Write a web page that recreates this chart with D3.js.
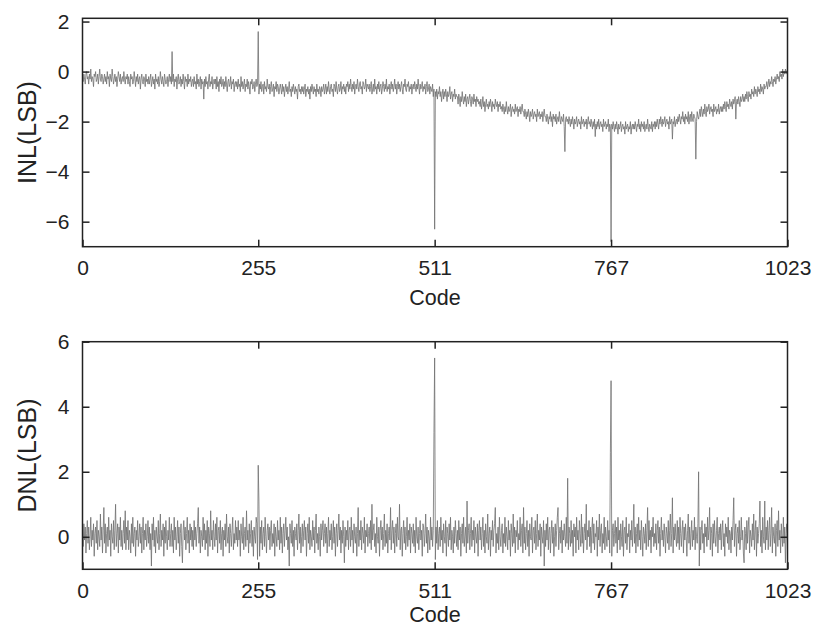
<!DOCTYPE html>
<html>
<head>
<meta charset="utf-8">
<script src="https://cdn.jsdelivr.net/npm/d3@7"></script>
<style>
  body { margin: 0; background: #fff; }
  text { font-family: "Liberation Sans", Arial, sans-serif; fill: #222; }
</style>
</head>
<body>
<div id="chart"></div>
<script>
// tick labels
var codeTicks = [0, 255, 511, 767, 1023];
var inlTicks = [2, 0, -2, -4, -6];
var dnlTicks = [6, 4, 2, 0];

// INL (LSB) per code 0..1023
var inl = [
-0.2,-0.4,-0.1,-0.3,-0.5,-0.1,0.0,-0.3,-0.2,-0.5,-0.1,-0.3,0.1,-0.4,-0.2,-0.3,-0.6,-0.1,-0.2,0.0,-0.4,-0.3,-0.1,-0.5,-0.2,0.1,-0.3,-0.4,-0.1,-0.2,-0.5,-0.3,
-0.1,-0.4,-0.2,-0.5,0.0,-0.3,-0.2,-0.6,-0.1,-0.3,-0.4,0.1,-0.2,-0.5,-0.3,-0.1,-0.4,-0.2,-0.6,-0.3,0.0,-0.2,-0.4,-0.1,-0.5,-0.3,-0.2,-0.4,0.0,-0.3,-0.5,-0.2,
-0.3,-0.1,-0.5,-0.2,-0.4,-0.6,-0.1,-0.3,-0.2,-0.5,-0.4,0.0,-0.3,-0.6,-0.2,-0.4,-0.1,-0.5,-0.3,-0.2,-0.7,-0.3,-0.1,-0.4,-0.5,-0.2,-0.3,-0.6,-0.1,-0.4,-0.3,-0.5,
-0.2,-0.5,-0.3,-0.1,-0.6,-0.4,-0.2,-0.5,-0.3,-0.7,-0.1,-0.4,-0.3,-0.5,-0.2,-0.6,-0.4,0.0,-0.3,-0.5,-0.2,-0.4,-0.6,-0.1,-0.3,-0.5,-0.4,-0.2,-0.6,-0.3,-0.1,-0.4,
-0.2,-0.5,0.8,-0.4,-0.1,-0.6,-0.3,-0.4,-0.2,-0.7,-0.3,-0.1,-0.5,-0.4,-0.2,-0.6,-0.3,-0.5,-0.1,-0.4,-0.7,-0.2,-0.4,-0.3,-0.6,-0.1,-0.5,-0.3,-0.4,-0.2,-0.6,-0.4,
-0.3,-0.6,-0.2,-0.5,-0.4,-0.7,-0.1,-0.5,-0.3,-0.6,-0.4,-0.2,-0.7,-0.3,-0.5,-0.4,-1.1,-0.3,-0.6,-0.2,-0.5,-0.4,-0.7,-0.3,-0.1,-0.6,-0.4,-0.5,-0.2,-0.7,-0.4,-0.3,
-0.5,-0.3,-0.7,-0.2,-0.6,-0.4,-0.8,-0.3,-0.5,-0.2,-0.6,-0.5,-0.3,-0.7,-0.4,-0.6,-0.2,-0.5,-0.8,-0.4,-0.3,-0.6,-0.5,-0.2,-0.7,-0.4,-0.5,-0.3,-0.8,-0.5,-0.4,-0.6,
-0.4,-0.7,-0.3,-0.6,-0.5,-0.8,-0.2,-0.6,-0.4,-0.7,-0.5,-0.3,-0.8,-0.5,-0.6,-0.3,-0.7,-0.4,-0.6,-0.9,-0.4,-0.5,-0.3,-0.7,-0.6,-0.4,-0.8,-0.5,-0.3,-0.6,-0.5,1.6,
-0.9,-0.5,-0.7,-0.4,-0.8,-0.6,-0.5,-0.9,-0.4,-0.7,-0.6,-0.8,-0.3,-0.6,-0.7,-0.5,-0.9,-0.6,-0.4,-0.8,-0.7,-0.5,-1.0,-0.6,-0.7,-0.4,-0.8,-0.5,-0.6,-0.9,-0.7,-0.5,
-0.7,-0.9,-0.5,-0.8,-0.6,-1.0,-0.7,-0.5,-0.8,-0.6,-0.9,-0.7,-0.4,-0.8,-0.7,-1.0,-0.6,-0.8,-0.5,-0.7,-0.9,-0.6,-0.8,-0.7,-1.1,-0.6,-0.5,-0.8,-0.7,-0.9,-0.6,-0.8,
-0.6,-0.9,-0.7,-0.5,-1.0,-0.7,-0.8,-0.6,-0.9,-0.7,-1.1,-0.6,-0.8,-0.5,-0.7,-0.9,-0.6,-0.8,-0.7,-1.0,-0.5,-0.8,-0.7,-0.9,-0.6,-0.7,-1.0,-0.6,-0.8,-0.7,-0.5,-0.9,
-0.7,-0.5,-0.9,-0.6,-0.8,-0.4,-0.7,-0.9,-0.6,-0.5,-0.8,-0.7,-1.0,-0.5,-0.6,-0.8,-0.4,-0.7,-0.9,-0.6,-0.5,-0.8,-0.7,-0.4,-0.9,-0.6,-0.7,-0.5,-0.8,-0.6,-0.9,-0.5,
-0.6,-0.4,-0.8,-0.5,-0.7,-0.3,-0.6,-0.8,-0.5,-0.7,-0.4,-0.9,-0.6,-0.5,-0.7,-0.3,-0.6,-0.8,-0.5,-0.4,-0.7,-0.6,-0.9,-0.4,-0.5,-0.7,-0.6,-0.3,-0.8,-0.5,-0.6,-0.7,
-0.5,-0.8,-0.6,-0.4,-0.9,-0.7,-0.5,-0.8,-0.3,-0.7,-0.6,-0.9,-0.5,-0.7,-0.4,-0.8,-0.6,-0.5,-0.9,-0.7,-0.4,-0.6,-0.8,-0.5,-0.7,-0.3,-0.8,-0.6,-0.7,-0.5,-0.9,-0.6,
-0.4,-0.7,-0.5,-0.8,-0.6,-0.3,-0.7,-0.5,-0.9,-0.6,-0.4,-0.7,-0.5,-0.8,-0.6,-0.4,-0.7,-0.9,-0.5,-0.6,-0.3,-0.7,-0.8,-0.5,-0.6,-0.4,-0.8,-0.6,-0.7,-0.5,-0.9,-0.6,
-0.5,-0.7,-0.4,-0.6,-0.8,-0.5,-0.7,-0.3,-0.6,-0.9,-0.5,-0.7,-0.6,-0.4,-0.8,-0.6,-0.7,-0.5,-0.9,-0.6,-0.4,-0.8,-0.7,-0.5,-0.9,-0.6,-0.7,-0.8,-0.5,-1.0,-0.7,-6.3,
-0.8,-1.0,-0.7,-1.1,-0.8,-0.9,-0.6,-1.0,-0.8,-1.2,-0.9,-0.7,-1.1,-0.8,-1.0,-0.7,-0.9,-1.2,-0.8,-1.0,-0.9,-0.6,-1.1,-0.9,-0.8,-1.2,-0.9,-1.0,-0.7,-1.1,-0.9,-1.0,
-1.0,-1.3,-0.9,-1.1,-1.4,-1.0,-1.2,-0.8,-1.1,-1.3,-1.0,-1.2,-0.9,-1.4,-1.1,-1.0,-1.3,-1.1,-0.9,-1.2,-1.4,-1.0,-1.1,-1.3,-0.9,-1.2,-1.1,-1.4,-1.0,-1.2,-1.1,-1.3,
-1.2,-1.4,-1.1,-1.5,-1.3,-1.0,-1.4,-1.2,-1.6,-1.3,-1.1,-1.4,-1.3,-1.5,-1.2,-1.4,-1.1,-1.3,-1.6,-1.2,-1.4,-1.3,-1.5,-1.1,-1.3,-1.4,-1.2,-1.6,-1.3,-1.4,-1.2,-1.5,
-1.4,-1.6,-1.3,-1.5,-1.7,-1.4,-1.6,-1.2,-1.5,-1.7,-1.4,-1.6,-1.5,-1.3,-1.8,-1.5,-1.4,-1.6,-1.5,-1.7,-1.3,-1.6,-1.5,-1.4,-1.8,-1.5,-1.6,-1.4,-1.7,-1.5,-1.3,-1.6,
-1.6,-1.8,-1.5,-1.7,-1.9,-1.6,-1.8,-1.5,-1.7,-2.0,-1.6,-1.8,-1.7,-1.5,-1.9,-1.7,-1.6,-1.8,-1.7,-2.0,-1.5,-1.8,-1.7,-1.6,-1.9,-1.7,-1.8,-1.6,-2.0,-1.7,-1.5,-1.8,
-1.8,-2.0,-1.7,-1.9,-2.1,-1.8,-1.9,-1.6,-2.0,-1.8,-2.2,-1.7,-1.9,-1.8,-2.0,-1.7,-2.1,-1.9,-1.8,-2.0,-1.6,-1.9,-2.1,-1.8,-1.9,-2.0,-1.7,-2.2,-3.2,-1.9,-1.8,-2.0,
-1.9,-2.1,-1.8,-2.0,-2.2,-1.9,-2.1,-1.8,-2.0,-2.3,-1.9,-2.1,-2.0,-1.8,-2.2,-2.0,-1.9,-2.1,-2.0,-2.3,-1.8,-2.1,-2.0,-1.9,-2.2,-2.0,-2.1,-1.9,-2.3,-2.0,-1.8,-2.1,
-2.0,-2.2,-1.9,-2.1,-2.3,-2.0,-2.2,-1.9,-2.6,-2.1,-2.3,-2.0,-2.2,-1.9,-2.3,-2.1,-2.0,-2.2,-2.1,-2.4,-1.9,-2.2,-2.1,-2.0,-2.3,-2.1,-2.2,-1.9,-2.4,-2.1,-2.2,-6.8,
-2.1,-2.3,-2.0,-2.2,-2.4,-2.1,-2.3,-2.0,-2.2,-2.5,-2.1,-2.3,-2.2,-2.0,-2.4,-2.2,-2.1,-2.3,-2.2,-2.5,-2.0,-2.3,-2.2,-2.1,-2.4,-2.2,-2.3,-2.0,-2.5,-2.2,-2.1,-2.3,
-2.1,-2.3,-2.0,-2.2,-2.4,-2.1,-2.2,-1.9,-2.3,-2.1,-2.4,-2.0,-2.2,-2.1,-2.3,-2.0,-2.4,-2.2,-2.1,-2.3,-1.9,-2.2,-2.4,-2.1,-2.2,-2.3,-2.0,-2.4,-2.1,-2.2,-2.0,-2.3,
-2.0,-2.2,-1.9,-2.1,-2.3,-1.9,-2.1,-1.8,-2.0,-2.2,-1.9,-2.1,-2.0,-1.8,-2.2,-2.0,-1.9,-2.1,-2.0,-2.3,-1.8,-2.1,-2.0,-1.9,-2.7,-2.0,-2.1,-1.8,-2.2,-2.0,-1.9,-2.1,
-1.8,-2.0,-1.7,-1.9,-2.1,-1.8,-1.9,-1.6,-2.0,-1.8,-2.1,-1.7,-1.9,-1.8,-2.0,-1.6,-2.1,-1.8,-1.7,-2.0,-1.6,-1.9,-2.0,-1.7,-1.8,-1.9,-3.5,-2.0,-1.6,-1.8,-1.9,-1.7,
-1.5,-1.8,-1.4,-1.6,-1.8,-1.5,-1.7,-1.3,-1.6,-1.8,-1.4,-1.6,-1.5,-1.3,-1.7,-1.5,-1.4,-1.6,-1.5,-1.8,-1.3,-1.6,-1.5,-1.4,-1.7,-1.5,-1.6,-1.3,-1.7,-1.5,-1.4,-1.6,
-1.4,-1.6,-1.3,-1.5,-1.2,-1.4,-1.6,-1.2,-1.4,-1.3,-1.5,-1.1,-1.3,-1.4,-1.2,-1.5,-1.1,-1.3,-1.2,-1.0,-1.9,-1.2,-1.1,-1.3,-1.0,-1.2,-1.4,-1.0,-1.2,-1.1,-0.9,-1.2,
-1.0,-1.2,-0.9,-1.1,-0.8,-1.0,-1.2,-0.8,-1.0,-0.9,-1.1,-0.7,-0.9,-0.8,-1.0,-0.6,-0.9,-0.7,-0.8,-1.0,-0.6,-0.8,-0.7,-0.9,-0.5,-0.8,-0.6,-0.7,-0.9,-0.5,-0.7,-0.6,
-0.6,-0.4,-0.7,-0.5,-0.3,-0.6,-0.4,-0.5,-0.2,-0.4,-0.6,-0.3,-0.4,-0.2,-0.5,-0.3,-0.1,-0.3,-0.2,-0.4,0.0,-0.2,-0.1,-0.3,0.1,-0.2,0.0,-0.1,0.1,-0.1,0.0,0.1
];

// DNL (LSB) per code 0..1023
var dnl = [
0.2,-0.3,0.4,-0.1,0.3,-0.5,0.1,0.5,-0.2,0.3,-0.4,0.0,0.6,-0.3,0.2,-0.1,0.4,-0.6,0.1,0.3,-0.2,0.5,-0.4,0.2,0.0,-0.3,0.7,-0.1,0.3,-0.5,0.2,0.9,
-0.2,0.4,-0.5,0.1,0.3,-0.3,0.6,-0.1,0.2,-0.6,0.4,0.0,-0.2,0.5,-0.4,0.2,1.0,-0.3,0.1,0.4,-0.5,0.3,-0.1,0.6,-0.3,0.2,-0.4,0.1,0.5,-0.2,0.8,-0.4,
0.3,-0.1,0.5,-0.4,0.2,0.0,-0.5,0.4,-0.2,0.6,-0.3,0.1,0.3,-0.6,0.2,-0.1,0.5,-0.3,0.0,0.4,-0.2,0.3,-0.5,0.1,0.6,-0.4,0.2,-0.1,0.4,-0.3,0.0,0.5,
-0.2,0.3,-0.4,0.1,-0.9,0.4,-0.1,0.6,-0.3,0.2,-0.5,0.3,0.0,-0.2,0.5,-0.4,0.1,0.7,-0.3,0.2,-0.1,0.4,-0.6,0.3,-0.2,0.5,0.0,-0.4,0.2,-0.1,0.6,-0.3,
0.1,0.4,-0.3,0.2,-0.5,0.6,-0.1,0.3,-0.4,0.0,0.5,-0.2,0.3,-0.6,0.1,0.4,-0.3,-0.8,0.2,0.5,-0.1,0.3,-0.4,0.1,0.6,-0.2,0.2,-0.5,0.4,-0.1,0.3,-0.3,
0.2,-0.4,0.5,-0.1,0.3,-0.3,0.1,0.4,0.9,-0.2,0.3,-0.5,0.2,0.0,-0.3,0.6,-0.1,0.4,-0.4,0.2,-0.2,0.5,-0.6,0.3,0.1,-0.3,0.8,-0.1,0.2,-0.4,0.5,0.0,
-0.3,0.4,-0.1,0.6,-0.5,0.2,0.3,-0.2,0.5,-0.4,0.1,0.3,-0.6,0.2,-0.1,0.4,-0.3,0.7,0.0,-0.2,0.3,-0.5,0.4,0.1,-0.3,0.2,0.6,-0.4,0.1,-0.2,0.5,-0.1,
0.3,-0.3,0.5,-0.1,0.2,-0.6,0.4,0.0,-0.2,0.6,-0.4,0.1,0.3,-0.3,0.8,-0.1,0.2,-0.5,0.4,-0.2,0.1,0.5,-0.3,0.2,-0.6,0.3,0.0,-0.2,0.6,0.4,-0.7,2.2,
1.1,-0.6,0.3,-0.2,0.5,-0.4,0.1,0.3,-0.3,0.6,0.0,-0.5,0.2,0.4,-0.1,0.3,-0.4,0.2,0.5,-0.3,0.1,-0.2,0.4,-0.6,0.3,0.0,-0.3,0.5,-0.1,0.2,-0.4,0.6,
-0.2,0.3,-0.5,0.1,0.4,-0.3,0.2,0.6,-0.1,0.3,-0.4,0.0,-0.9,0.4,0.1,-0.2,0.5,-0.3,0.2,-0.6,0.3,0.1,-0.1,0.4,-0.4,0.2,0.7,-0.2,0.3,-0.5,0.0,0.4,
-0.3,0.2,0.5,-0.1,0.3,-0.6,0.1,0.4,-0.2,0.6,-0.4,0.2,0.0,-0.3,0.5,-0.1,0.3,-0.5,0.2,0.7,-0.2,0.1,-0.4,0.3,0.0,-0.6,0.4,-0.1,0.2,0.5,-0.3,0.1,
0.4,-0.2,0.3,-0.5,0.1,0.6,-0.3,0.2,-0.1,0.4,-0.4,0.0,0.5,-0.2,0.3,-0.6,0.1,0.4,-0.3,0.2,0.7,-0.1,0.3,-0.5,0.2,-0.2,0.5,0.0,-0.8,0.3,-0.3,0.2,
-0.1,0.5,-0.4,0.2,0.3,-0.3,0.6,-0.1,0.2,-0.5,0.4,0.0,-0.2,0.3,-0.6,0.1,0.9,-0.3,0.2,-0.1,0.5,-0.4,0.3,0.1,-0.2,0.6,-0.5,0.2,0.0,0.4,-0.3,0.1,
0.3,-0.2,0.5,-0.4,1.0,-0.1,0.2,0.4,-0.3,0.1,-0.5,0.6,0.0,-0.2,0.3,-0.6,0.2,0.5,-0.1,0.3,-0.4,0.1,0.7,-0.3,0.2,-0.2,0.4,-0.5,0.1,0.3,-0.1,0.9,
-0.4,0.2,0.5,-0.2,0.3,-0.5,0.1,0.4,-0.3,0.6,0.0,-0.1,1.0,-0.4,0.2,0.3,-0.6,0.1,0.5,-0.2,0.3,-0.4,0.0,0.6,-0.3,0.2,-0.1,0.4,-0.5,0.3,0.1,-0.2,
0.4,-0.3,0.2,-0.5,0.6,0.0,-0.2,0.3,-0.4,0.1,0.5,-0.1,0.2,-0.6,0.4,0.3,-0.3,0.1,0.7,-0.2,0.3,-0.5,0.2,0.0,-0.4,0.6,-0.1,0.3,-0.3,0.2,3.2,5.5,
-0.7,0.3,-0.2,0.5,-0.4,0.1,0.3,-0.3,0.6,-0.1,0.2,-0.5,0.4,0.0,-0.2,0.5,-0.6,0.3,0.1,-0.3,0.4,-0.1,0.6,-0.4,0.2,0.0,-0.5,0.3,-0.2,0.5,0.1,-0.3,
0.2,-0.4,0.5,-0.1,0.3,-0.6,0.1,0.4,-0.2,0.6,-0.3,0.0,0.3,-0.5,1.1,-0.2,0.2,0.4,-0.4,0.1,0.6,-0.3,0.2,-0.1,0.5,-0.5,0.3,0.0,-0.2,0.4,-0.6,0.2,
0.5,-0.1,0.3,-0.4,0.1,0.6,-0.3,0.2,-0.5,0.4,0.0,-0.2,0.7,-0.4,0.1,0.3,-0.6,0.2,-0.1,0.5,-0.3,0.2,0.4,0.9,-0.5,0.1,-0.2,0.3,-0.4,0.6,0.0,-0.3,
0.2,0.4,-0.5,0.1,-0.2,0.6,-0.3,0.3,0.0,-0.4,0.5,-0.1,0.2,-0.6,0.4,0.1,-0.3,0.7,-0.2,0.3,-0.5,0.2,0.0,0.5,-0.4,0.1,-0.1,0.6,-0.3,0.2,0.4,-0.5,
0.9,-0.2,0.3,-0.4,0.1,0.5,-0.3,0.2,-0.6,0.4,0.0,-0.1,0.6,-0.5,0.2,0.3,-0.2,0.5,-0.4,0.1,0.7,-0.3,0.2,-0.1,0.4,-0.6,0.3,0.0,-0.2,0.5,-0.9,0.2,
-0.3,0.4,-0.1,0.6,-0.4,0.2,0.3,-0.5,0.1,0.5,-0.2,0.3,-0.6,0.0,0.4,-0.3,0.2,0.6,0.9,-0.4,0.1,0.3,-0.2,0.5,-0.5,0.2,-0.1,0.4,0.0,-0.3,0.6,-0.2,
1.8,-0.4,0.3,0.1,-0.3,0.5,-0.2,0.2,-0.6,0.4,0.0,0.3,-0.5,0.6,-0.1,0.2,-0.4,0.5,0.1,-0.3,0.7,-0.2,0.3,-0.5,0.1,0.4,-0.1,1.0,-0.4,0.2,0.0,0.5,
-0.3,0.3,-0.5,0.2,0.6,-0.2,0.4,-0.4,0.1,0.0,0.5,-0.6,0.3,-0.1,0.7,-0.3,0.2,0.4,-0.5,0.1,-0.2,0.6,-0.4,0.3,0.0,-0.3,0.5,-0.1,0.2,-0.5,2.6,4.8,
-0.6,0.2,0.4,-0.3,0.1,0.5,-0.2,0.3,-0.5,0.6,-0.1,0.2,-0.4,0.4,0.0,-0.3,0.5,-0.6,0.2,0.3,-0.2,0.6,-0.4,0.1,0.0,0.4,-0.5,0.2,-0.1,0.5,-0.3,0.2,
1.0,-0.2,0.3,-0.5,0.1,0.4,-0.3,0.6,-0.1,0.2,-0.4,0.5,0.0,-0.6,0.3,0.1,-0.2,0.4,-0.4,0.2,0.9,-0.3,0.5,-0.1,0.2,-0.5,0.3,0.0,0.6,-0.3,0.1,-0.2,
0.4,-0.4,0.2,0.5,-0.2,0.3,-0.6,0.1,0.6,-0.1,0.2,-0.3,0.4,0.0,-0.5,0.3,0.1,-0.2,0.5,-0.4,0.2,0.7,-0.3,0.1,1.2,-0.5,0.3,-0.1,0.4,0.0,-0.3,0.5,
-0.2,0.3,-0.4,0.6,0.1,-0.3,0.2,0.5,-0.5,0.3,-0.1,0.4,0.0,-0.6,0.2,0.7,-0.2,0.3,-0.4,0.1,0.5,-0.3,0.2,-0.1,0.6,-0.4,0.3,0.0,-0.2,0.4,2.0,-0.9,
0.3,-0.4,0.2,0.5,-0.2,0.1,-0.5,0.4,0.0,0.3,-0.3,0.6,-0.1,0.2,0.9,-0.4,0.3,0.1,-0.6,0.4,-0.2,0.5,0.0,-0.3,0.2,0.6,-0.5,0.1,0.3,-0.1,0.4,-0.4,
0.2,0.5,-0.3,0.1,-0.6,0.4,0.0,0.3,-0.2,0.6,-0.4,0.2,0.1,-0.5,0.3,-0.1,0.5,1.2,-0.3,0.2,0.4,-0.6,0.1,0.3,-0.2,0.5,-0.4,0.0,0.6,-0.1,0.2,-0.5,
-0.8,0.3,0.1,-0.4,0.5,-0.2,0.3,0.6,-0.5,0.2,0.0,-0.3,0.4,-0.1,0.7,-0.4,0.2,0.5,-0.6,0.3,-0.2,0.1,0.4,1.1,-0.3,0.2,-0.5,0.6,0.0,-0.2,1.1,-0.4,
0.3,-0.1,0.5,-0.4,0.2,0.6,-0.3,0.1,0.9,-0.5,0.3,0.0,-0.2,0.4,-0.6,0.2,0.5,-0.3,0.8,-0.1,0.2,-0.5,0.4,0.0,-0.3,0.6,-0.2,0.3,-0.8,0.1,0.4,-0.2
];

var svgWidth = 815;
var svgHeight = 627;

var svg = d3.select("#chart")
  .append("svg")
  .attr("width", svgWidth)
  .attr("height", svgHeight);

var left = 82.5, right = 787.5;

var x = d3.scaleLinear()
  .domain([0, 1023])
  .range([left, right]);

// draw one boxed panel, matlab style (ticks inside, on all four sides)
function panel(values, top, bottom, yDomain, yTicks, yLabel, codeY) {
  var y = d3.scaleLinear().domain(yDomain).range([bottom, top]);
  var g = svg.append("g");

  var line = d3.line()
    .x((d, i) => x(i))
    .y(d => y(d));

  g.append("path")
    .datum(values)
    .attr("d", line)
    .attr("fill", "none")
    .attr("stroke", "#707070")
    .attr("stroke-width", 0.8);

  // axes, inward ticks
  g.append("g")
    .attr("transform", `translate(0, ${bottom})`)
    .call(d3.axisBottom(x).tickValues(codeTicks).tickSizeInner(-7).tickSizeOuter(0).tickPadding(13.5).tickFormat(d3.format("d")));
  g.append("g")
    .attr("transform", `translate(0, ${top})`)
    .call(d3.axisTop(x).tickValues(codeTicks.slice(1, -1)).tickSizeInner(-7).tickSizeOuter(0).tickFormat(""));
  g.append("g")
    .attr("transform", `translate(${left}, 0)`)
    .call(d3.axisLeft(y).tickValues(yTicks).tickSizeInner(-7).tickSizeOuter(0).tickPadding(13).tickFormat(d => d < 0 ? "\u2212" + Math.abs(d) : d));
  g.append("g")
    .attr("transform", `translate(${right}, 0)`)
    .call(d3.axisRight(y).tickValues(yTicks).tickSizeInner(-7).tickSizeOuter(0).tickFormat(""));

  g.selectAll(".domain").remove();
  g.selectAll(".tick line").attr("stroke", "#222").attr("stroke-width", 1.5);
  g.selectAll(".tick text").attr("font-size", "21px").attr("fill", "#222")
    .attr("font-family", "'Liberation Sans', Arial, sans-serif");

  g.append("rect")
    .attr("x", left)
    .attr("y", top)
    .attr("width", right - left)
    .attr("height", bottom - top)
    .attr("fill", "none")
    .attr("stroke", "#222")
    .attr("stroke-width", 1.5);

  g.append("text")
    .attr("x", (left + right) / 2)
    .attr("y", codeY)
    .attr("text-anchor", "middle")
    .attr("font-size", "21.5px")
    .text("Code");

  g.append("text")
    .attr("transform", `translate(36, ${(top + bottom) / 2}) rotate(-90)`)
    .attr("text-anchor", "middle")
    .attr("font-size", "25px")
    .text(yLabel);
}

panel(inl, 18.3, 246.7, [-7, 2.13], inlTicks, "INL(LSB)", 304.5);
panel(dnl, 341.7, 569.3, [-1, 6], dnlTicks, "DNL(LSB)", 622);
</script>
</body>
</html>
